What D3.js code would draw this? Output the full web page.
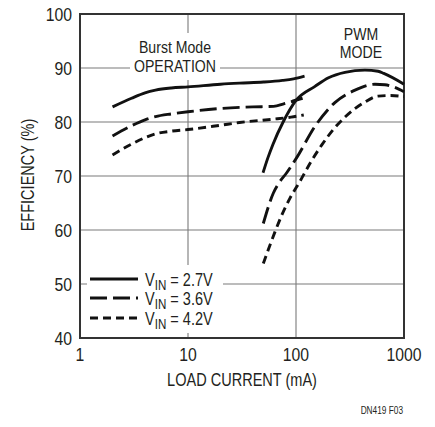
<!DOCTYPE html>
<html><head><meta charset="utf-8">
<script src="https://cdn.jsdelivr.net/npm/d3@7"></script>
<style>
html,body{margin:0;padding:0;background:#fff;}
svg{display:block;}
text{font-family:"Liberation Sans",Arial,sans-serif;fill:#231f20;}
</style></head>
<body>
<svg id="chart" width="435" height="427"></svg>
<script>
// ---- data (load current mA, efficiency %) ----
const seriesNames = ["VIN = 2.7V", "VIN = 3.6V", "VIN = 4.2V"];
const burst27 = [[2,82.8],[3,84.4],[4,85.4],[5,85.9],[7,86.3],[10,86.5],[20,87.0],[30,87.2],[50,87.4],[75,87.7],[95,88.0],[120,88.5]];
const burst36 = [[2,77.4],[3,79.3],[4,80.4],[5,81.0],[7,81.5],[10,81.9],[20,82.5],[40,82.8],[62,82.9],[78,83.4],[115,84.4]];
const burst42 = [[2,73.9],[3,75.9],[4,77.1],[5,77.8],[7,78.3],[10,78.6],[20,79.4],[30,79.9],[60,80.5],[90,80.9],[118,81.3]];
const pwm27 = [[49.5,70.6],[55,73.4],[61,75.8],[76,80.0],[100,84.0],[150,86.6],[200,88.2],[284,89.2],[435,89.6],[575,89.4],[650,89.0],[1000,87.0]];
const pwm36 = [[49.8,61.2],[61.6,66.8],[70,68.8],[82,70.6],[101.5,73.4],[150,79.2],[229,83.6],[352,85.9],[538,87.0],[665,86.9],[800,86.5],[1000,85.6]];
const pwm42 = [[49.8,53.8],[64,59.7],[74,62.8],[88,65.9],[108,68.9],[140,72.9],[174,75.8],[230,79.0],[284,80.9],[435,83.7],[575,84.8],[750,84.9],[1000,84.7]];
const xTicks = [1, 10, 100, 1000];
const yTicks = [40, 50, 60, 70, 80, 90, 100];

const svg = d3.select("#chart");
const L = 80, R = 404, T = 14, B = 338;
const K = 0.83; // horizontal condensing of the narrow type face
const x = d3.scaleLog().domain([1, 1000]).range([L, R]);
const y = d3.scaleLinear().domain([40, 100]).range([B, T]);

function label(px, py, str, size, anchor, k, extra) {
  const t = svg.append("text")
    .attr("transform", `translate(${px},${py})${extra || ""} scale(${k || K},1)`)
    .attr("text-anchor", anchor || "middle").attr("font-size", size);
  if (str !== null) t.text(str);
  return t;
}

// grid
svg.append("g").selectAll("line").data(yTicks.slice(1, -1)).join("line")
  .attr("x1", L).attr("x2", R).attr("y1", d => y(d)).attr("y2", d => y(d))
  .attr("stroke", "#7a7a7a").attr("stroke-width", 1.1);
svg.append("g").selectAll("line").data(xTicks.slice(1, -1)).join("line")
  .attr("y1", T).attr("y2", B).attr("x1", d => x(d)).attr("x2", d => x(d))
  .attr("stroke", "#7a7a7a").attr("stroke-width", 1.1);

// white boxes behind annotations
svg.append("rect").attr("x", 130).attr("y", 33).attr("width", 90).attr("height", 47).attr("fill", "#fff");
svg.append("rect").attr("x", 87).attr("y", 265).attr("width", 136).attr("height", 68).attr("fill", "#fff");

// frame
svg.append("rect").attr("x", L).attr("y", T).attr("width", R - L).attr("height", B - T)
  .attr("fill", "none").attr("stroke", "#333").attr("stroke-width", 2);

// axes labels via d3 axes (no tick lines)
const yAxis = svg.append("g").attr("transform", `translate(${L},0)`)
  .call(d3.axisLeft(y).tickValues(yTicks).tickSize(0).tickPadding(9).tickFormat(d3.format("d")));
yAxis.select(".domain").remove();
yAxis.selectAll("text").attr("font-size", 17.5).attr("font-family", null).attr("fill", "#231f20")
  .attr("dy", "0.36em").attr("transform", "scale(0.9,1)");
const xAxis = svg.append("g").attr("transform", `translate(0,${B})`)
  .call(d3.axisBottom(x).tickValues(xTicks).tickSize(0).tickPadding(11).tickFormat(d3.format("d")));
xAxis.select(".domain").remove();
xAxis.selectAll("text").attr("font-size", 17.5).attr("font-family", null).attr("fill", "#231f20")
  .attr("transform", "scale(0.9,1)");
// keep tick labels centred on ticks after scaling
xAxis.selectAll(".tick").each(function(d) {
  d3.select(this).attr("transform", `translate(${x(d)},0)`);
});

// curves
const line = d3.line().x(d => x(d[0])).y(d => y(d[1])).curve(d3.curveMonotoneX);
const styles = [
  {dash: null},
  {dash: "17,6"},
  {dash: "8,5"}
];
const curves = [[burst27, pwm27], [burst36, pwm36], [burst42, pwm42]];
curves.forEach((pair, i) => {
  pair.forEach(data => {
    svg.append("path").attr("d", line(data)).attr("fill", "none")
      .attr("stroke", "#111").attr("stroke-width", 2.9)
      .attr("stroke-dasharray", styles[i].dash);
  });
});

// annotations
label(175, 53, "Burst Mode", 17);
label(175, 72, "OPERATION", 17);
label(361, 39.5, "PWM", 17);
label(361, 58, "MODE", 17);

// legend
const legY = [279, 298, 318];
seriesNames.forEach((name, i) => {
  svg.append("line").attr("x1", 90).attr("x2", 138).attr("y1", legY[i]).attr("y2", legY[i])
    .attr("stroke", "#111").attr("stroke-width", 2.9).attr("stroke-dasharray", styles[i].dash);
  const t = label(145, legY[i] + 7, null, 17.5, "start");
  t.append("tspan").text("V");
  t.append("tspan").attr("font-size", 14).attr("dy", 4).text("IN");
  t.append("tspan").attr("dy", -4).text(" " + name.split(" ").slice(1).join(" "));
});

// axis titles
label(242, 386, "LOAD CURRENT (mA)", 17.5);
label(34, 175, "EFFICIENCY (%)", 17.5, "middle", K, " rotate(-90)");
label(403, 414, "DN419 F03", 10, "end");
</script>
</body></html>
